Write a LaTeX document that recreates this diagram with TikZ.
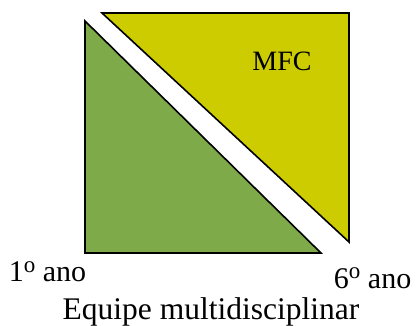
\documentclass[tikz,border=0pt]{standalone}
\usepackage{fontspec}
\setmainfont{Liberation Serif}
\definecolor{tgreen}{RGB}{127,170,73}
\definecolor{tyellow}{RGB}{204,204,0}
\newcommand{\ordo}{\raisebox{9.5pt}{\fontsize{23}{28}\selectfont o}}
\begin{document}
\begin{tikzpicture}[x=1pt,y=-1pt,
  tri/.style={draw=black,line width=1.6pt,line join=miter},
  lbl/.style={inner sep=0pt,font=\fontsize{30}{36}\selectfont}]
\useasboundingbox (0,0) rectangle (417,325);
\filldraw[tri,fill=tgreen] (85,21) -- (85,253) -- (321,253) -- cycle;
\filldraw[tri,fill=tyellow] (102,13) -- (349,13) -- (349,242) -- cycle;
\node[lbl,anchor=base,font=\fontsize{28}{34}\selectfont] (mfc) at (282,70.7) {MFC};
\node[lbl,anchor=base west] (a1) at (8.7,281.7) {1\ordo{} ano};
\node[lbl,anchor=base east] (a6) at (411.5,288.3) {6\ordo{} ano};
\node[lbl,anchor=base,font=\fontsize{31.5}{38}\selectfont] (eq) at (211,319.3) {Equipe multidisciplinar};
\end{tikzpicture}
\end{document}
